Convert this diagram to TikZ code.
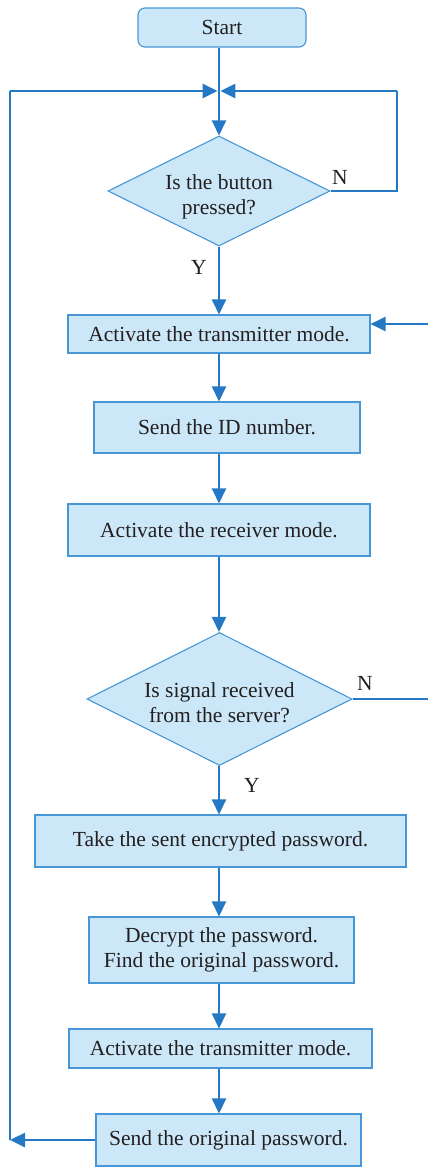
\documentclass[tikz,border=0pt]{standalone}
\usepackage{fontspec}
\setmainfont{Liberation Serif}
\usetikzlibrary{shapes.geometric,arrows.meta}
\definecolor{boxfill}{RGB}{204,232,248}
\definecolor{boxline}{RGB}{72,150,214}
\definecolor{flow}{RGB}{36,120,196}
\definecolor{ink}{RGB}{35,31,32}

\begin{document}
\begin{tikzpicture}[x=1pt,y=-1pt,
  every node/.style={font=\fontsize{21.5}{25}\selectfont, text=ink},
  procbox/.style={rectangle, draw=boxline, fill=boxfill, line width=1.1pt,
    inner sep=0pt, align=center},
  decision/.style={diamond, draw=boxline, fill=boxfill, line width=1.1pt,
    inner sep=0pt, aspect=2},
  flowarrow/.style={draw=flow, line width=2.5pt, -{Triangle[length=15pt,width=14pt]}},
  flowline/.style={draw=flow, line width=1.3pt},
  tag/.style={inner sep=0pt, align=center}
]
\useasboundingbox (0,0) rectangle (428,1167);

% process steps and decisions
\node[procbox, rounded corners=7pt, minimum width=168pt, minimum height=39pt] (start) at (222,27.5) {Start};
\node[decision, minimum width=222pt, minimum height=110pt] (d1) at (219,191) {};
\node[tag] (d1text) at (219,197) {Is the button\\pressed?};
\node[procbox, minimum width=302pt, minimum height=38pt] (act1) at (219,334) {Activate the transmitter mode.};
\node[procbox, minimum width=266pt, minimum height=51pt] (sendid) at (227,427.5) {Send the ID number.};
\node[procbox, minimum width=302pt, minimum height=52pt] (recv) at (219,530) {Activate the receiver mode.};
\node[decision, minimum width=265pt, minimum height=133pt] (d2) at (219.5,699) {};
\node[tag] (d2text) at (219.5,703) {Is signal received\\from the server?};
\node[procbox, minimum width=371pt, minimum height=52pt] (take) at (220.5,841) {Take the sent encrypted password.};
\node[procbox, minimum width=265pt, minimum height=66pt] (decrypt) at (221.5,950) {Decrypt the password.\\Find the original password.};
\node[procbox, minimum width=303pt, minimum height=39pt] (act2) at (220.5,1048.5) {Activate the transmitter mode.};
\node[procbox, minimum width=265pt, minimum height=52pt] (sendorig) at (228.5,1140) {Send the original password.};

% branch labels
\node[tag] (n1) at (340,177) {N};
\node[tag] (y1) at (199,267) {Y};
\node[tag] (n2) at (365,683) {N};
\node[tag] (y2) at (252,785) {Y};

% routing points
\coordinate (axis) at (219,0);
\coordinate (jl) at (217.6,91);
\coordinate (jr) at (220.4,91);
\coordinate (lefttop) at (10,91);
\coordinate (leftbot) at (10,1140);
\coordinate (righttop) at (397,91);
\coordinate (rightin) at (428,324);
\coordinate (rightout) at (428,699);

% main flow
\draw[flowarrow] (d1.north |- start.south) -- (d1.north);
\draw[flowarrow] (d1.south) -- (act1.north);
\draw[flowarrow] (act1.south) -- (sendid.north -| axis);
\draw[flowarrow] (sendid.south -| axis) -- (recv.north -| axis);
\draw[flowarrow] (recv.south -| axis) -- (d2.north -| axis);
\draw[flowarrow] (d2.south -| axis) -- (take.north -| axis);
\draw[flowarrow] (take.south -| axis) -- (decrypt.north -| axis);
\draw[flowarrow] (decrypt.south -| axis) -- (act2.north -| axis);
\draw[flowarrow] (act2.south -| axis) -- (sendorig.north -| axis);

% loop back from "N" of the button test
\draw[flowline] (d1.east) -| (righttop);
\draw[flowarrow] (righttop) -- (jr);

% return path on the left
\draw[flowarrow] (sendorig.west) -- (leftbot);
\draw[flowline] (leftbot) -- (lefttop);
\draw[flowarrow] (lefttop) -- (jl);

% "N" of the signal test and re-entry of the transmitter step
\draw[flowline] (d2.east) -- (rightout);
\draw[flowarrow] (rightin) -- (act1.east |- rightin);
\end{tikzpicture}
\end{document}
